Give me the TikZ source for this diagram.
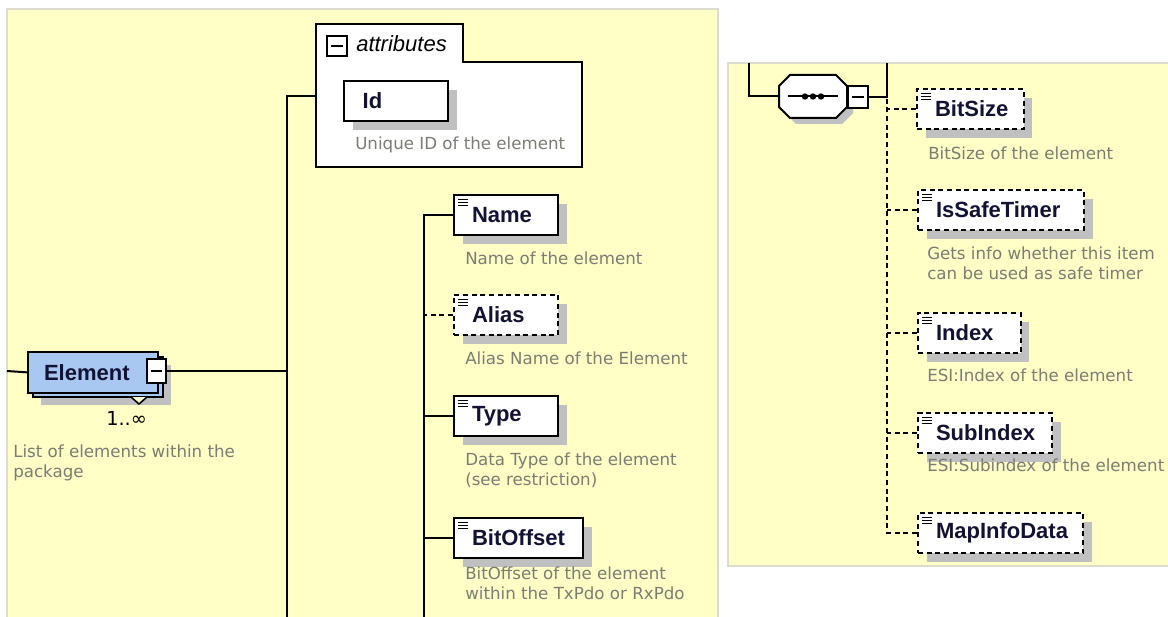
\documentclass[tikz,border=0pt]{standalone}
\usepackage{fontspec}
\setmainfont{DejaVu Sans}
\newfontfamily\boxfont{Liberation Sans}
\usetikzlibrary{shadows}

\definecolor{panelfill}{RGB}{255,255,198}
\definecolor{panelrule}{RGB}{222,220,204}
\definecolor{shadowgray}{RGB}{192,192,192}
\definecolor{elemblue}{RGB}{168,200,242}
\definecolor{inkblue}{RGB}{18,18,50}
\definecolor{descgray}{RGB}{124,124,116}

% label inside a box: fixed box width, left padding
\newcommand\fieldlabel[3][13.5pt]{\hbox to #2{\hskip #1\relax #3\hfil}}

\begin{document}
\begin{tikzpicture}[x=0.75pt,y=-0.75pt,
  conn/.style={line width=1.5pt},
  optconn/.style={line width=1.5pt, dash pattern=on 3.75pt off 2.75pt},
  optional/.style={dash pattern=on 3.75pt off 2.75pt},
  boxshadow/.style={drop shadow={shadow xshift=6.5pt, shadow yshift=-6.5pt, fill=shadowgray, opacity=1}},
  field/.style={draw=black, line width=1.5pt, fill=white, inner sep=0pt,
    minimum height=30pt, anchor=north west, text=inkblue,
    font=\boxfont\bfseries\fontsize{16.5}{18}\selectfont, boxshadow},
  listicon/.style={path picture={
    \draw[solid, line width=1pt, black]
      ([shift={(3.2pt,-3.2pt)}]path picture bounding box.north west) -- ++(7pt,0pt)
      ([shift={(3.2pt,-5.5pt)}]path picture bounding box.north west) -- ++(7pt,0pt)
      ([shift={(3.2pt,-7.8pt)}]path picture bounding box.north west) -- ++(7pt,0pt);}},
  toggle/.style={draw=black, line width=1.2pt, fill=white, inner sep=0pt, anchor=north west,
    path picture={\draw[solid, line width=1.2pt]
      ([xshift=3pt]path picture bounding box.west) -- ([xshift=-3pt]path picture bounding box.east);}},
  desc/.style={anchor=north west, inner sep=0pt, align=left, text=descgray,
    font=\fontsize{12.5}{15}\selectfont},
]
\useasboundingbox (0,0) rectangle (1168,617);
\clip (0,0) rectangle (1168,617);

% ---------- panels ----------
\filldraw[fill=panelfill, draw=panelrule, line width=1.2pt] (7,9) rectangle (718,630);
\filldraw[fill=panelfill, draw=panelrule, line width=1.2pt] (728,63) rectangle (1180,566);

% ---------- left panel: Element ----------
\fill[shadowgray] (41,365) rectangle (171,405);
\filldraw[fill=elemblue, draw=black, line width=1.5pt] (33,357) rectangle (163,397);
\node[draw=black, line width=1.5pt, fill=elemblue, inner sep=0pt, minimum height=30.5pt,
  anchor=north west, text=inkblue, font=\boxfont\bfseries\fontsize{16.5}{18}\selectfont]
  (element) at (27,351) {\fieldlabel[12pt]{97.5pt}{Element}};
\node[toggle, minimum width=14.25pt, minimum height=18pt] (eltoggle) at (146,358) {};
\draw[line width=1.2pt, fill=panelfill] (131,397) -- (139,404) -- (147,397);
\node[anchor=base west, inner sep=0pt, font=\fontsize{14.5}{16}\selectfont] (mult) at (106,425) {1..∞};
\node[desc] (eldesc) at (13,445) {List of elements within the\\package};

% attributes group
\filldraw[fill=white, draw=black, line width=1.5pt]
  (316,24) -- (463,24) -- (463,62) -- (582,62) -- (582,167) -- (316,167) -- cycle;
\node[toggle, minimum width=15pt, minimum height=15pt] (attrtoggle) at (326,35) {};
\node[anchor=base west, inner sep=0pt, font=\boxfont\itshape\fontsize{16.5}{18}\selectfont]
  (attrlabel) at (356,52) {attributes};
\coordinate (attrW) at (316,96);
\node[field] (id) at (343,80) {\fieldlabel[14pt]{78pt}{Id}};
\node[desc] (iddesc) at (355,137) {Unique ID of the element};

% sequence children
\node[field, listicon] (name) at (453,194) {\fieldlabel{78pt}{Name}};
\node[desc] (namedesc) at (465,252) {Name of the element};
\node[field, listicon, optional] (alias) at (453,294) {\fieldlabel{78pt}{Alias}};
\node[desc] (aliasdesc) at (465,352) {Alias Name of the Element};
\node[field, listicon] (type) at (453,395) {\fieldlabel{78pt}{Type}};
\node[desc] (typedesc) at (465,453) {Data Type of the element\\(see restriction)};
\node[field, listicon] (bitoffset) at (453,517) {\fieldlabel{97pt}{BitOffset}};
\node[desc] (offdesc) at (465,567) {BitOffset of the element\\within the TxPdo or RxPdo};

% left connectors
\coordinate (lin) at (7,371);
\coordinate (trunk) at (287,630);
\coordinate (seqL) at (424,630);
\draw[conn] (lin) -- (element.west);
\draw[conn] (eltoggle.east) -- (eltoggle.east -| trunk);
\draw[conn] (attrW) -| (trunk);
\draw[conn] (name.west) -| (seqL);
\draw[optconn] (alias.west) -- (alias.west -| seqL);
\draw[conn] (type.west) -- (type.west -| seqL);
\draw[conn] (bitoffset.west) -- (bitoffset.west -| seqL);

% ---------- right panel: sequence compositor (octagon) ----------
\fill[shadowgray, shift={(6,6)}]
  (790,75) -- (836,75) -- (847,86) -- (847,107) -- (836,118) -- (790,118) -- (779,107) -- (779,86) -- cycle;
\filldraw[fill=white, draw=black, line width=1.5pt]
  (790,75) -- (836,75) -- (847,86) -- (847,107) -- (836,118) -- (790,118) -- (779,107) -- (779,86) -- cycle;
\node[inner sep=0pt, minimum width=51pt, minimum height=32.25pt] (seq) at (813,96.5) {};
\draw[line width=1.5pt] ([xshift=7pt]seq.west) -- ([xshift=-7pt]seq.east);
\foreach \dx in {-6pt,0pt,6pt}
  \fill ([xshift=\dx]seq.center) circle[radius=2.4pt];
\node[toggle, minimum width=15pt, minimum height=16.5pt] (seqtoggle) at (847,85) {};

\node[field, listicon, optional] (bitsize) at (916,88) {\fieldlabel{80pt}{BitSize}};
\node[desc] (sizedesc) at (928,147) {BitSize of the element};
\node[field, listicon, optional] (safetimer) at (917,189) {\fieldlabel{124.5pt}{IsSafeTimer}};
\node[desc] (safedesc) at (927,247) {Gets info whether this item\\can be used as safe timer};
\node[field, listicon, optional] (index) at (917,312) {\fieldlabel{77pt}{Index}};
\node[desc] (idxdesc) at (927,369) {ESI:Index of the element};
\node[field, listicon, optional] (subindex) at (917,412) {\fieldlabel{100.5pt}{SubIndex}};
\node[desc] (subdesc) at (927,459) {ESI:Subindex of the element};
\node[field, listicon, optional] (mapinfo) at (917,512) {\fieldlabel{124pt}{MapInfoData}};

% right connectors
\coordinate (rin) at (749,63);
\coordinate (rout) at (887,63);
\draw[conn] (rin) |- (seq.west);
\draw[conn] (seqtoggle.east) -| (rout);
\draw[optconn] (mapinfo.west) -| (rout |- seqtoggle.east);
\draw[optconn] (bitsize.west) -- (bitsize.west -| rout);
\draw[optconn] (safetimer.west) -- (safetimer.west -| rout);
\draw[optconn] (index.west) -- (index.west -| rout);
\draw[optconn] (subindex.west) -- (subindex.west -| rout);
\end{tikzpicture}
\end{document}
